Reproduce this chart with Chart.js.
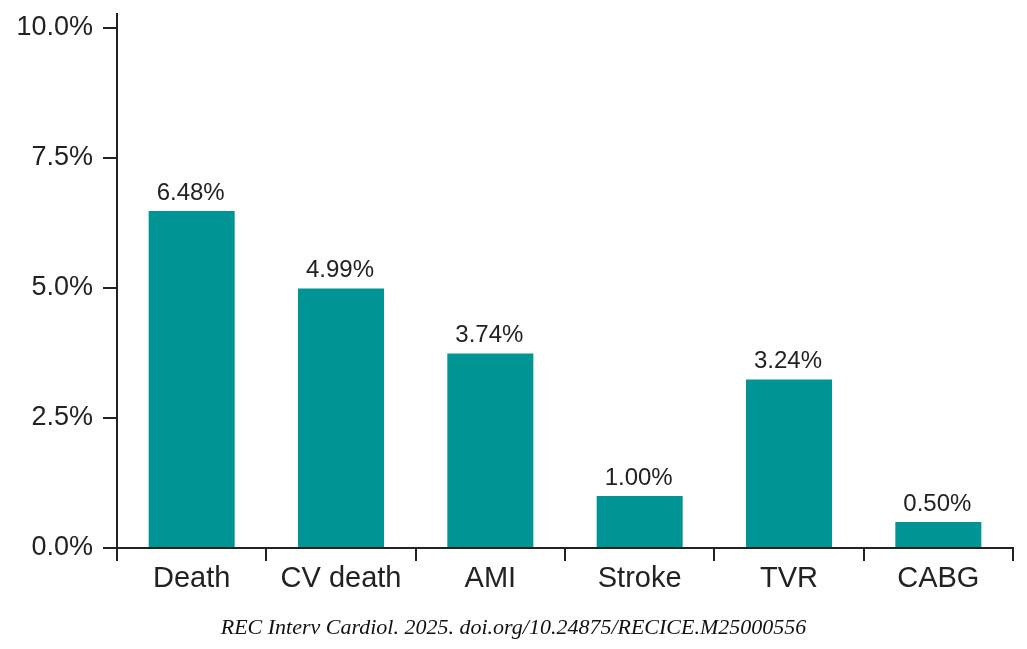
<!DOCTYPE html>
<html lang="en">

<head>
    <meta charset="UTF-8">
    <title>Event rates</title>
    <style>
        body { margin: 0; background: #fff; }
        .wrap { position: relative; width: 1027px; height: 649px; }
        #caption {
            position: absolute; left: 0; width: 1027px; top: 614px;
            text-align: center; font-family: "Liberation Serif", "DejaVu Serif", serif;
            font-style: italic; font-size: 22px; color: #111;
        }
    </style>
</head>

<body>
    <div class="wrap">
        <canvas id="myChart" width="1027" height="649"></canvas>
        <div id="caption">REC Interv Cardiol. 2025. doi.org/10.24875/RECICE.M25000556</div>
    </div>

    <script src="https://cdn.jsdelivr.net/npm/chart.js"></script>
    <script>
        var categories = ['Death', 'CV death', 'AMI', 'Stroke', 'TVR', 'CABG'];
        var rates = [6.48, 4.99, 3.74, 1.00, 3.24, 0.50];
        var yTicks = [0, 2.5, 5, 7.5, 10];

        var ink = '#222222';

        // numbers above the bars
        var barLabels = {
            id: 'barLabels',
            afterDatasetsDraw: function (chart) {
                var ctx = chart.ctx;
                var meta = chart.getDatasetMeta(0);
                ctx.save();
                ctx.font = '24px "Liberation Sans", Arial, sans-serif';
                ctx.fillStyle = ink;
                ctx.textAlign = 'center';
                ctx.textBaseline = 'bottom';
                meta.data.forEach(function (bar, i) {
                    ctx.fillText(rates[i].toFixed(2) + '%', bar.x - 1, bar.y - 6);
                });
                ctx.restore();
            }
        };

        new Chart(document.getElementById('myChart'), {
            type: 'bar',
            data: {
                labels: categories,
                datasets: [{
                    data: rates,
                    backgroundColor: '#009495',
                    barPercentage: 0.576,
                    categoryPercentage: 1
                }]
            },
            options: {
                responsive: false,
                animation: false,
                layout: { padding: { left: 0, right: 14, top: 14, bottom: 0 } },
                plugins: { legend: { display: false }, tooltip: { enabled: false } },
                scales: {
                    x: {
                        afterFit: function (axis) { axis.height = 101; },
                        border: { color: ink, width: 2 },
                        grid: { drawOnChartArea: false, tickLength: 13, color: ink, lineWidth: 2 },
                        ticks: {
                            color: ink, padding: 1,
                            font: { family: '"Liberation Sans", Arial, sans-serif', size: 29 }
                        }
                    },
                    y: {
                        min: 0,
                        max: 10.27,
                        afterFit: function (axis) {
                            axis.width = 117;
                            axis.paddingTop = 0;
                            axis.paddingBottom = 0;
                        },
                        afterBuildTicks: function (axis) {
                            axis.ticks = yTicks.map(function (v) { return { value: v }; });
                        },
                        border: { color: ink, width: 2 },
                        grid: { drawOnChartArea: false, tickLength: 14, color: ink, lineWidth: 2 },
                        ticks: {
                            color: ink, padding: 10,
                            font: { family: '"Liberation Sans", Arial, sans-serif', size: 27 },
                            callback: function (v) { return v.toFixed(1) + '%'; }
                        }
                    }
                }
            },
            plugins: [barLabels]
        });
    </script>
</body>

</html>
